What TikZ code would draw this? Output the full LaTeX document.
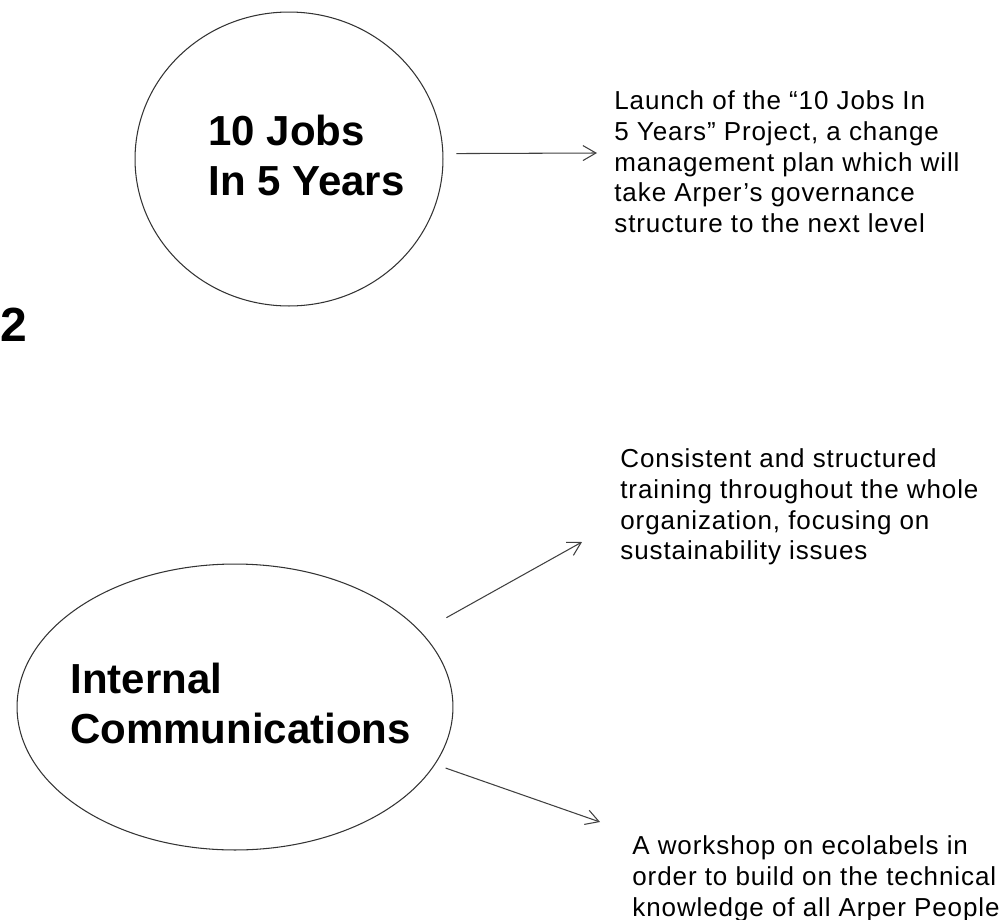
\documentclass[tikz,border=0pt]{standalone}
\usepackage{fontspec}
\setmainfont{Liberation Sans}
\newfontfamily\notefont[LetterSpace=3.5]{Liberation Sans}
\usetikzlibrary{shapes.geometric,arrows.meta}

\tikzstyle{bubble}=[ellipse,draw=black!80,line width=0.6pt,inner sep=0pt]
\tikzstyle{title}=[inner sep=0pt,anchor=north west,align=left,font=\fontsize{23.9}{28.5}\selectfont\bfseries]
\tikzstyle{note}=[inner sep=0pt,anchor=north west,align=left,font=\notefont\fontsize{14.8}{17.6}\selectfont]
\tikzstyle{arr}=[-{Straight Barb[length=7.4pt,width=8.5pt]},draw=black!75,line width=0.6pt]

\begin{document}
\begin{tikzpicture}[x=0.02cm,y=-0.02cm]
\useasboundingbox(0,0)rectangle(1008,920);
\node(jobs)[bubble,minimum width=6.16cm,minimum height=5.88cm] at (289,159){};
\node(jobstext)[title] at (208,115){10 Jobs\\In 5 Years};
\node(num)[anchor=north west,inner sep=0pt,font=\fontsize{27.3}{30}\selectfont\bfseries] at (0,308){2};
\node(comm)[bubble,minimum width=8.72cm,minimum height=5.72cm] at (235,707){};
\node(commtext)[title] at (70,663){Internal\\Communications};
\node(launch)[note] at (614,90){Launch of the “10 Jobs In\\5 Years” Project, a change\\management plan which will\\take Arper’s governance\\structure to the next level};
\node(train)[note] at (620,448){Consistent and structured\\training throughout the whole\\organization, focusing on\\sustainability issues};
\node(work)[note] at (632,835){A workshop on ecolabels in\\order to build on the technical\\knowledge of all Arper People};
\coordinate(tipA) at (597,153);
\coordinate(tipB) at (582,542);
\coordinate(tipC) at (600,822);
\draw[arr,shorten <=0.26cm](jobs.2)--(tipA);
\draw[arr,shorten <=0.58cm](comm.22)--(tipB);
\draw[arr,shorten <=0.22cm](comm.-16)--(tipC);
\end{tikzpicture}
\end{document}
